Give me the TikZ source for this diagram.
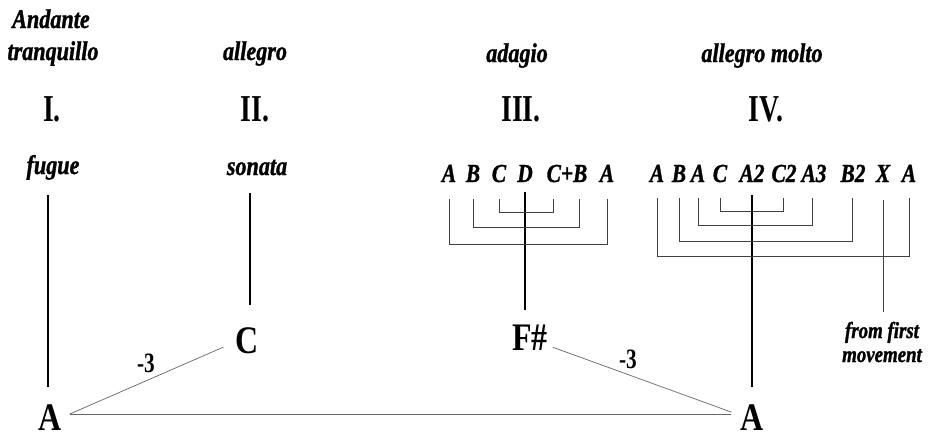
\documentclass[tikz,border=0pt]{standalone}
\usepackage{fontspec}
\newfontfamily\tmpfont[FakeStretch=0.82,FakeBold=1.2]{Liberation Serif}
\newfontfamily\keyfont[FakeStretch=0.82]{Liberation Serif}
\newfontfamily\intfont[FakeStretch=0.76]{Liberation Serif}
\newfontfamily\numfont[FakeStretch=0.73]{Liberation Serif}
\usetikzlibrary{calc}
\tikzset{
  txt/.style={inner sep=0pt, outer sep=0pt, anchor=base, text depth=0pt},
  tempo/.style={txt, font=\tmpfont\bfseries\itshape\fontsize{27}{29}\selectfont},
  mvt/.style={txt, font=\numfont\bfseries\fontsize{38}{40}\selectfont},
  form/.style={tempo},
  motif/.style={txt, font=\tmpfont\bfseries\itshape\fontsize{26}{28}\selectfont},
  keyname/.style={txt, font=\keyfont\bfseries\fontsize{39}{40}\selectfont},
  interval/.style={txt, font=\intfont\bfseries\fontsize{28}{28}\selectfont},
  note/.style={txt, font=\tmpfont\bfseries\itshape\fontsize{23}{24}\selectfont},
  stem/.style={line width=1.8pt, black},
  brk/.style={line width=0.8pt, black!75},
  link/.style={line width=0.7pt, black!60},
}
\begin{document}
\begin{tikzpicture}[x=1pt,y=-1pt]
\useasboundingbox[fill=white] (0,0) rectangle (929,437);
% headings
\node[tempo] (andante) at (51,28) {Andante};
\node[tempo] (tranq) at (53,60) {tranquillo};
\node[tempo] (allegro) at (255,60) {allegro};
\node[tempo] (adagio) at (517,62) {adagio};
\node[tempo] (molto) at (762,62) {allegro molto};
\node[mvt] (m1) at (52,121) {I.};
\node[mvt] (m2) at (255,121) {II.};
\node[mvt] (m3) at (521,121) {III.};
\node[mvt] (m4) at (766,121) {IV.};
\node[form] (fugue) at (53,174) {fugue};
\node[form] (sonata) at (257,175) {sonata};
% III motifs
\node[motif] (t1) at (449,182) {A};
\node[motif] (t2) at (473,182) {B};
\node[motif] (t3) at (499,182) {C};
\node[motif] (t4) at (525,182) {D};
\node[motif] (t5) at (567,182) {C+B};
\node[motif] (t6) at (607,182) {A};
% IV motifs
\node[motif] (f1) at (657,182) {A};
\node[motif] (f2) at (679,182) {B};
\node[motif] (f3) at (698,182) {A};
\node[motif] (f4) at (720,182) {C};
\node[motif] (f5) at (752,182) {A2};
\node[motif] (f6) at (784,182) {C2};
\node[motif] (f7) at (814,182) {A3};
\node[motif] (f8) at (853,182) {B2};
\node[motif] (f9) at (883,182) {X};
\node[motif] (f10) at (909,182) {A};
% keys
\node[keyname] (Aleft) at (50,430) {A};
\node[keyname] (Ckey) at (247,353) {C};
\node[keyname] (Fs) at (530,350) {F\#};
\node[keyname] (Aright) at (752,430) {A};
\node[interval] (i1) at (146,372) {-3};
\node[interval] (i2) at (628,368) {-3};
\node[note] (from1) at (882,338) {from first};
\node[note] (from2) at (882,362) {movement};
% stems
\draw[stem] ($(fugue.south)+(-5,21)$) -- ($(Aleft.north)+(-2,-17)$);
\draw[stem] ($(sonata.south)+(-7,18)$) -- ($(Ckey.north)+(3,-22)$);
\draw[stem] ($(t4.south)+(0,10)$) -- ($(Fs.north)+(-5,-14)$);
\draw[stem] ($(f5.south)+(0,13)$) -- ($(Aright.north)+(0,-17)$);
% brackets III
\draw[brk] ($(t1.south)+(0,17)$) -- ++(0,45) -| ($(t6.south)+(0,17)$);
\draw[brk] ($(t2.south)+(0,17)$) -- ++(0,28) -| ($(t5.south)+(12,17)$);
\draw[brk] ($(t3.south)+(0,17)$) -- ++(0,13) -| ($(t5.south)+(-14,17)$);
% brackets IV
\draw[brk] ($(f1.south)+(0,16)$) -- ++(0,58) -| ($(f10.south)+(0,16)$);
\draw[brk] ($(f2.south)+(0,16)$) -- ++(0,43) -| ($(f8.south)+(-1,16)$);
\draw[brk] ($(f3.south)+(0,16)$) -- ++(0,27) -| ($(f7.south)+(-2,16)$);
\draw[brk] ($(f4.south)+(0,16)$) -- ++(0,13) -| ($(f6.south)+(-1,16)$);
\draw[brk] ($(f9.south)+(0,18)$) -- ($(f9.south |- from1.north)+(0,-10)$);
% key links
\draw[link] ($(Aleft.east)+(8,-3)$) -- ($(Ckey.west)+(-12,7)$);
\draw[link] ($(Aleft.east)+(8,-3)$) -- ($(Aright.west)+(-9,-3)$);
\draw[link] ($(Fs.east)+(5,10)$) -- ($(Aright.west)+(-9,-5)$);
\end{tikzpicture}
\end{document}
